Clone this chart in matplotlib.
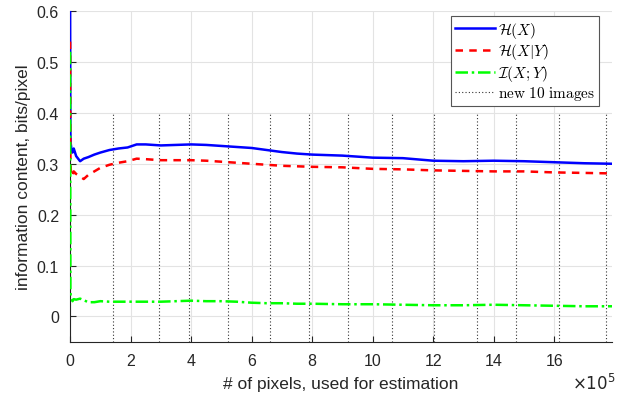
import numpy as np
import matplotlib.pyplot as plt

plt.rcParams['font.family'] = ['Liberation Sans', 'DejaVu Sans']
plt.rcParams['mathtext.fontset'] = 'cm'

# number of pixels (x 1e5) and estimates in bits/pixel
x_pts = [0.0, 0.005, 0.01, 0.02, 0.04, 0.08, 0.12, 0.2, 0.33, 0.45, 0.6, 0.8, 1.0, 1.3, 1.6, 1.9, 2.2, 2.5,
         3.0, 3.5, 4.0, 4.5, 5.0, 5.5, 6.0, 6.5, 7.0, 7.5, 8.0, 9.0, 10.0, 11.0, 12.0, 13.0, 14.0,
         15.0, 16.0, 17.0, 17.92]
h_x = [0.60, 0.45, 0.36, 0.34, 0.33, 0.322, 0.33, 0.315, 0.305, 0.31, 0.313, 0.318, 0.322, 0.327, 0.33,
       0.332, 0.338, 0.338, 0.336, 0.337, 0.338, 0.337, 0.335, 0.333, 0.331, 0.327, 0.323, 0.320, 0.318,
       0.316, 0.312, 0.311, 0.306, 0.305, 0.306, 0.305, 0.303, 0.301, 0.300]
h_xy = [0.54, 0.40, 0.31, 0.29, 0.28, 0.275, 0.285, 0.28, 0.275, 0.270, 0.278, 0.285, 0.292, 0.298, 0.302,
        0.305, 0.310, 0.309, 0.307, 0.307, 0.307, 0.306, 0.304, 0.302, 0.300, 0.298, 0.296, 0.295, 0.294,
        0.293, 0.290, 0.289, 0.287, 0.286, 0.285, 0.285, 0.283, 0.282, 0.281]
i_xy = [0.52, 0.30, 0.05, 0.04, 0.035, 0.03, 0.034, 0.033, 0.035, 0.032, 0.028, 0.028, 0.030, 0.029, 0.029,
        0.029, 0.029, 0.029, 0.029, 0.030, 0.031, 0.030, 0.030, 0.029, 0.027, 0.026, 0.026, 0.025, 0.025,
        0.024, 0.024, 0.023, 0.022, 0.022, 0.023, 0.022, 0.021, 0.020, 0.020]

# positions where a new batch of 10 images starts (x 1e5)
batch_x = [1.42, 2.94, 3.93, 5.22, 6.61, 7.90, 9.19, 10.64, 12.03, 13.45, 14.74, 16.17, 17.72]

x = np.array(x_pts) * 1e5

fig = plt.figure(figsize=(6.26, 4.02), dpi=100)
ax = fig.add_axes([0.112, 0.147, 0.866, 0.823])

ax.plot(x, h_x, color='#0000ff', lw=1.8, label=r'$\mathcal{H}(X)$', zorder=4)
ax.plot(x, h_xy, color='#ff0000', lw=1.8, ls=(0, (3, 2.5)), label=r'$\mathcal{H}(X|Y)$', zorder=4)
ax.plot(x, i_xy, color='#00ff00', lw=1.8, ls=(0, (5, 1.5, 1, 1.5)), label=r'$\mathcal{I}(X;Y)$', zorder=4)
for i, b in enumerate(batch_x):
    ax.plot([b * 1e5, b * 1e5], [-0.05, 0.4], color='#333333', lw=0.8, ls=(0, (1, 2)),
            label=r'$\mathrm{new\ 10\ images}$' if i == 0 else None, zorder=3)

ax.set_xlim(0, 17.92e5)
ax.set_ylim(-0.05, 0.6)
ax.set_xticks(np.arange(0, 17, 2) * 1e5)
ax.set_xticklabels([str(v) for v in range(0, 17, 2)])
ax.set_yticks([0, 0.1, 0.2, 0.3, 0.4, 0.5, 0.6])
ax.set_yticklabels(['0', '0.1', '0.2', '0.3', '0.4', '0.5', '0.6'])
ax.grid(True, color='#e3e3e3', lw=0.8)
ax.set_axisbelow(True)
for s in ['top', 'right']:
    ax.spines[s].set_visible(False)
for s in ['left', 'bottom']:
    ax.spines[s].set_color('#262626')
ax.tick_params(direction='in', length=4, colors='#262626', labelsize=11.5, pad=8)

ax.set_xlabel('# of pixels, used for estimation', fontsize=12.5, color='#262626', labelpad=6)
ax.set_ylabel('information content, bits/pixel', fontsize=12.5, color='#262626')
fig.text(0.948, 0.03, r'$\times10^5$', fontsize=12, color='#262626', ha='center',
         family='Liberation Sans', math_fontfamily='dejavusans')

leg = ax.legend(loc='upper right', bbox_to_anchor=(0.975, 0.985), fontsize=11, handlelength=2.6,
                handletextpad=0.2, borderpad=0.25, labelspacing=0.1, fancybox=False, framealpha=1,
                edgecolor='#555555', borderaxespad=0)
leg.get_frame().set_linewidth(0.8)

fig.savefig('out.png', dpi=100)
